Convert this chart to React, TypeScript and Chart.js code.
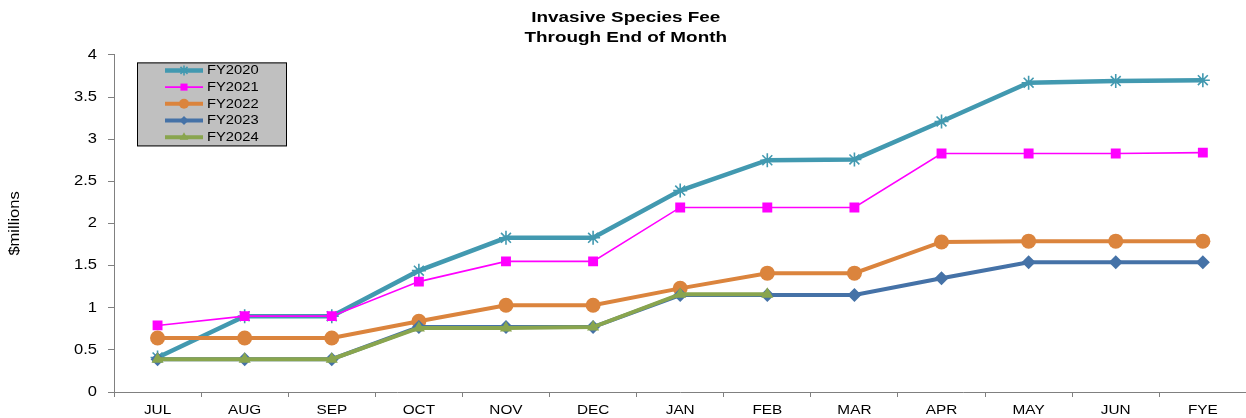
import React, { useEffect, useRef } from 'react';
import { Chart, registerables } from 'chart.js';
import { drawPoint } from 'chart.js/helpers';

Chart.register(...registerables);

const TITLE_LINES = ['Invasive Species Fee', 'Through End of Month'];
const Y_TITLE = '$millions';
const MONTHS = ['JUL', 'AUG', 'SEP', 'OCT', 'NOV', 'DEC', 'JAN', 'FEB', 'MAR', 'APR', 'MAY', 'JUN', 'FYE'];

const SERIES_LABELS = ['FY2020', 'FY2021', 'FY2022', 'FY2023', 'FY2024'];
const FY2020 = [0.41, 0.9, 0.9, 1.44, 1.83, 1.83, 2.39, 2.75, 2.76, 3.21, 3.67, 3.69, 3.7];
const FY2021 = [0.79, 0.9, 0.9, 1.31, 1.55, 1.55, 2.19, 2.19, 2.19, 2.83, 2.83, 2.83, 2.84];
const FY2022 = [0.64, 0.64, 0.64, 0.84, 1.03, 1.03, 1.23, 1.41, 1.41, 1.78, 1.79, 1.79, 1.79];
const FY2023 = [0.39, 0.39, 0.39, 0.77, 0.77, 0.77, 1.15, 1.15, 1.15, 1.35, 1.54, 1.54, 1.54];
const FY2024 = [0.39, 0.39, 0.39, 0.76, 0.76, 0.77, 1.16, 1.16, null, null, null, null, null];

const Y_MIN = 0;
const Y_MAX = 4;
const Y_STEP = 0.5;

const FONT = 'Liberation Sans, Arial, sans-serif';

const STYLES = [
  { color: '#4299B0', width: 4.5, point: 'star', radius: 7, border: 1.6, lr: 5 },
  { color: '#FF00FF', width: 1.6, point: 'rect', radius: 7, border: 0, lr: 5 },
  { color: '#DB843D', width: 4, point: 'circle', radius: 7.5, border: 0, lr: 5 },
  { color: '#4572A7', width: 4, point: 'rectRot', radius: 7, border: 0, lr: 4.5 },
  { color: '#89A54E', width: 4, point: 'triangle', radius: 7, border: 0, lr: 5 },
];

const VALUES = [FY2020, FY2021, FY2022, FY2023, FY2024];

const legendAndStretch = {
  id: 'legendAndStretch',
  beforeDraw(chart: any) {
    const ctx = chart.ctx;
    const orig = CanvasRenderingContext2D.prototype.fillText;
    ctx.fillText = function (text: string, x: number, y: number, maxWidth?: number) {
      const s = /bold/.test(this.font) ? 1.26 : 1.18;
      this.save();
      this.translate(x, y);
      this.scale(s, 1);
      if (maxWidth === undefined || maxWidth === null) orig.call(this, text, 0, 0);
      else orig.call(this, text, 0, 0, maxWidth / s);
      this.restore();
    };
  },
  afterDraw(chart: any) {
    const ctx = chart.ctx;
    const a = chart.chartArea;
    const bx = a.left + 23;
    const by = a.top + 7.5;
    const bw = 150;
    const bh = 84;
    ctx.save();
    ctx.fillStyle = '#C0C0C0';
    ctx.fillRect(bx, by, bw, bh);
    ctx.strokeStyle = '#000000';
    ctx.lineWidth = 1;
    ctx.strokeRect(bx + 0.5, by + 0.5, bw - 1, bh - 1);
    const rowH = 16.7;
    SERIES_LABELS.forEach((lab, i) => {
      const st = STYLES[i];
      const cy = by + 8 + i * rowH;
      const x0 = bx + 28;
      const x1 = bx + 66;
      ctx.strokeStyle = st.color;
      ctx.lineWidth = st.width;
      ctx.beginPath();
      ctx.moveTo(x0, cy);
      ctx.lineTo(x1, cy);
      ctx.stroke();
      ctx.fillStyle = st.color;
      ctx.strokeStyle = st.color;
      ctx.lineWidth = st.border || 1;
      drawPoint(ctx, { pointStyle: st.point, radius: st.lr, rotation: 0, borderWidth: st.border }, (x0 + x1) / 2, cy);
      ctx.fillStyle = '#000000';
      ctx.font = `12.5px ${FONT}`;
      ctx.textAlign = 'left';
      ctx.textBaseline = 'middle';
      ctx.fillText(lab, bx + 70, cy + 0.5);
    });
    ctx.restore();
    delete ctx.fillText;
  },
};

export default function App() {
  const ref = useRef<HTMLCanvasElement | null>(null);
  useEffect(() => {
    if (!ref.current) return;
    const datasets = SERIES_LABELS.map((label, i) => {
      const st = STYLES[i];
      return {
        label,
        data: VALUES[i],
        borderColor: st.color,
        backgroundColor: st.color,
        borderWidth: st.width,
        pointStyle: st.point,
        pointRadius: st.radius,
        pointBackgroundColor: st.color,
        pointBorderColor: st.color,
        pointBorderWidth: st.border,
        tension: 0,
        spanGaps: false,
        order: SERIES_LABELS.length - i,
      };
    });
    const chart = new Chart(ref.current, {
      type: 'line',
      data: { labels: MONTHS, datasets: datasets as any },
      options: {
        responsive: false,
        animation: false,
        devicePixelRatio: 1,
        layout: { padding: { left: 0, right: 3.5, top: 0, bottom: 0 } },
        plugins: {
          legend: { display: false },
          tooltip: { enabled: false },
          title: {
            display: true,
            text: TITLE_LINES,
            color: '#000000',
            font: { family: FONT, size: 15, weight: 'bold', lineHeight: 1.33 },
            padding: { top: 8, bottom: 7 },
          },
        },
        scales: {
          x: {
            type: 'category',
            offset: true,
            grid: { offset: true, drawOnChartArea: false, drawTicks: true, tickLength: 5, color: '#808080' },
            border: { color: '#808080', width: 1 },
            ticks: { color: '#000000', font: { family: FONT, size: 13 }, padding: 6, maxRotation: 0, autoSkip: false },
            afterFit: (s: any) => { s.height = 26; },
          },
          y: {
            min: Y_MIN,
            max: Y_MAX,
            ticks: {
              stepSize: Y_STEP,
              color: '#000000',
              font: { family: FONT, size: 14 },
              padding: 11,
              callback: (v: any) => String(Number(v)),
            },
            grid: { drawOnChartArea: false, drawTicks: true, tickLength: 6, color: '#808080' },
            border: { color: '#808080', width: 1 },
            title: {
              display: true,
              text: Y_TITLE,
              color: '#000000',
              font: { family: FONT, size: 14 },
              padding: { top: 7, bottom: 0 },
            },
            afterFit: (s: any) => { s.width = 114; },
          },
        },
      },
      plugins: [legendAndStretch],
    });
    return () => chart.destroy();
  }, []);
  return (
    <div style={{ position: 'fixed', left: 0, top: 0, width: 1246, height: 418, overflow: 'hidden', background: '#ffffff' }}>
      <canvas ref={ref} width={1255} height={418} style={{ display: 'block', width: 1255, height: 418 }} />
    </div>
  );
}
